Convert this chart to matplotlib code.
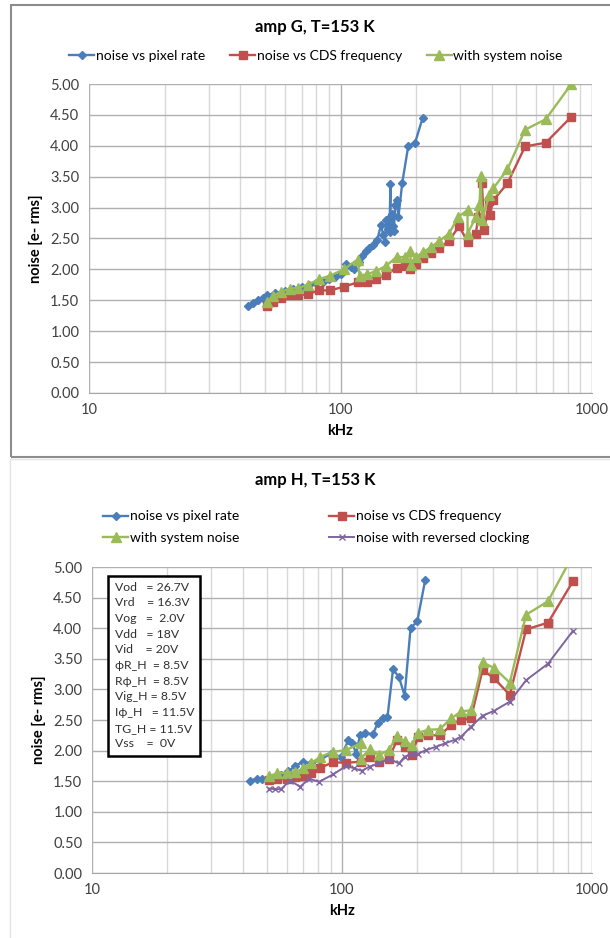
import matplotlib
matplotlib.use("Agg")
import matplotlib.pyplot as plt
from matplotlib.patches import Rectangle
from matplotlib.ticker import FixedLocator, NullFormatter

plt.rcParams['font.family'] = ['Lato', 'DejaVu Sans']

# ---- amp G data ----
g_pix_x = [43, 45, 47, 49, 51, 55, 60, 65, 70, 75, 80, 85, 90, 95, 100, 105, 110, 113, 118, 122, 126, 130, 135, 140,
           145, 148, 150, 152, 155, 157, 158, 158, 160, 162, 163, 165, 167, 170, 176, 186, 198, 212]
g_pix_y = [1.40, 1.46, 1.51, 1.54, 1.58, 1.62, 1.65, 1.68, 1.71, 1.74, 1.78, 1.80, 1.85, 1.88, 1.93, 2.08, 2.04, 2.01,
           2.12, 2.22, 2.29, 2.34, 2.40, 2.48, 2.72, 2.55, 2.45, 2.80, 2.65, 2.85, 3.38, 2.60, 2.90, 2.70, 2.62, 3.05,
           3.12, 2.85, 3.40, 4.00, 4.05, 4.45]
g_cds_x = [51, 54, 58, 63, 68, 74, 82, 91, 103, 117, 127, 138, 152, 167, 180, 189, 200, 213, 229, 247, 270, 296, 320,
           345, 353, 365, 373, 390, 392, 405, 461, 542, 655, 828]
g_cds_y = [1.40, 1.48, 1.54, 1.58, 1.58, 1.60, 1.66, 1.66, 1.72, 1.79, 1.79, 1.85, 1.91, 2.03, 2.06, 2.00, 2.08, 2.19,
           2.27, 2.35, 2.46, 2.70, 2.45, 2.57, 2.85, 3.39, 2.64, 3.10, 2.88, 3.12, 3.39, 3.99, 4.05, 4.47]
g_sys_x = [51, 54, 58, 63, 68, 74, 82, 91, 103, 117, 119, 127, 138, 152, 167, 180, 189, 191, 200, 213, 229, 247, 270,
           294, 320, 320, 345, 357, 361, 365, 390, 405, 461, 542, 655, 828]
g_sys_y = [1.48, 1.57, 1.64, 1.69, 1.70, 1.75, 1.84, 1.90, 2.00, 2.16, 1.90, 1.92, 1.97, 2.06, 2.20, 2.20, 2.29, 2.07,
           2.20, 2.28, 2.36, 2.46, 2.58, 2.85, 2.96, 2.58, 2.84, 3.04, 3.51, 2.80, 3.20, 3.31, 3.62, 4.26, 4.43, 5.00]

# ---- amp H data ----
h_pix_x = [43, 45.6, 48, 52, 57, 61, 65, 70, 75, 82, 90, 99, 106, 110, 114, 118, 124, 133, 139, 146, 152, 160, 169,
           178, 188, 200, 215]
h_pix_y = [1.51, 1.54, 1.54, 1.56, 1.60, 1.66, 1.75, 1.82, 1.79, 1.85, 1.95, 1.90, 2.17, 2.12, 1.95, 2.25, 2.28, 2.27,
           2.45, 2.53, 2.55, 3.33, 3.20, 2.90, 4.00, 4.11, 4.78]
h_cds_x = [51, 55, 60, 65, 70, 75, 82, 92, 104, 119, 129, 141, 154, 166, 178, 190, 202, 221, 246, 274, 300, 328, 365,
           406, 469, 545, 667, 840]
h_cds_y = [1.52, 1.53, 1.54, 1.57, 1.58, 1.63, 1.72, 1.81, 1.80, 1.82, 1.90, 1.82, 1.87, 2.17, 2.06, 1.93, 2.23, 2.25,
           2.25, 2.42, 2.50, 2.53, 3.32, 3.18, 2.91, 3.98, 4.09, 4.77]
h_sys_x = [51, 55, 60, 65, 70, 75, 82, 92, 104, 119, 119, 129, 141, 154, 166, 178, 190, 202, 221, 246, 274, 300, 328,
           365, 406, 469, 545, 667, 840]
h_sys_y = [1.58, 1.63, 1.64, 1.65, 1.71, 1.79, 1.90, 1.98, 2.01, 2.12, 1.87, 2.02, 1.93, 2.01, 2.24, 2.15, 2.09, 2.29,
           2.34, 2.35, 2.53, 2.64, 2.66, 3.44, 3.35, 3.11, 4.22, 4.44, 5.20]
h_rev_x = [51, 54, 57, 62, 68, 74, 81, 92, 104, 112, 120, 129, 141, 154, 169, 178, 191, 202, 217, 237, 259, 284, 300,
           328, 365, 406, 469, 545, 667, 840]
h_rev_y = [1.38, 1.37, 1.37, 1.51, 1.41, 1.54, 1.49, 1.61, 1.75, 1.71, 1.67, 1.74, 1.79, 1.87, 1.79, 1.90, 1.95, 1.95,
           2.01, 2.06, 2.12, 2.18, 2.23, 2.39, 2.57, 2.65, 2.80, 3.15, 3.42, 3.96]

bias_lines = ["Vod   = 26.7V", "Vrd    = 16.3V", "Vog   =  2.0V", "Vdd   = 18V", "Vid    = 20V",
              "\u03d5R_H  = 8.5V", "R\u03d5_H  = 8.5V", "Vig_H = 8.5V", "I\u03d5_H   = 11.5V", "TG_H = 11.5V",
              "Vss    =  0V"]

BLUE = '#4a7ebb'
RED = '#c0504d'
GREEN = '#9bbb59'
PURPLE = '#8064a2'

W, H = 610, 938
fig = plt.figure(figsize=(W / 100, H / 100), dpi=100)


def fx(px):
    return px / W


def fy(py):
    return 1 - py / H


# panel borders
fig.patches.append(Rectangle((fx(11), fy(457)), fx(620) - fx(11), fy(5) - fy(457), transform=fig.transFigure,
                             fill=False, edgecolor='#8c8c8c', lw=1.5))
fig.patches.append(Rectangle((fx(10), fy(945)), fx(620) - fx(10), fy(459) - fy(945), transform=fig.transFigure,
                             fill=False, edgecolor='#e4e4e4', lw=1.0))


def style_axes(ax):
    ax.set_xscale('log')
    ax.set_xlim(10, 1000)
    ax.set_ylim(0, 5)
    ax.set_yticks([i * 0.5 for i in range(11)])
    ax.set_yticklabels(["%.2f" % (i * 0.5) for i in range(11)], fontsize=10.5, color='#404040')
    ax.xaxis.set_major_locator(FixedLocator([10, 100, 1000]))
    ax.xaxis.set_minor_locator(FixedLocator([k * 10 for k in range(2, 10)] + [k * 100 for k in range(2, 10)]))
    ax.xaxis.set_minor_formatter(NullFormatter())
    ax.set_xticklabels(['10', '100', '1000'], fontsize=10.5, color='#404040')
    ax.tick_params(length=0, which='both', pad=7)
    ax.grid(True, which='major', color='#b0b0b0', lw=1.0)
    ax.grid(True, which='minor', axis='x', color='#d9d9d9', lw=1.0)
    ax.set_axisbelow(True)
    for s in ['top', 'right', 'left']:
        ax.spines[s].set_visible(False)
    ax.spines['bottom'].set_color('#a6a6a6')
    ax.set_xlabel('kHz', fontsize=10.5, fontweight='bold', labelpad=5)
    ax.set_ylabel('noise [e- rms]', fontsize=10.5, fontweight='bold', labelpad=5)


# ---- top panel ----
ax1 = fig.add_axes([fx(89), fy(393), fx(592) - fx(89), fy(84) - fy(393)])
style_axes(ax1)
l1, = ax1.plot(g_pix_x, g_pix_y, color=BLUE, lw=1.7, marker='D', ms=4, label='noise vs pixel rate')
l2, = ax1.plot(g_cds_x, g_cds_y, color=RED, lw=1.7, marker='s', ms=6, label='noise vs CDS frequency')
l3, = ax1.plot(g_sys_x, g_sys_y, color=GREEN, lw=1.7, marker='^', ms=6.5, label='with system noise')
fig.text(fx(315), fy(27), 'amp G, T=153 K', fontsize=12, fontweight='bold', ha='center', va='center')
fig.legend(handles=[l1, l2, l3], loc='center', bbox_to_anchor=(fx(316), fy(56)), ncol=3, frameon=False,
           fontsize=10, handlelength=1.8, handletextpad=0.1, columnspacing=1.8)

# ---- bottom panel ----
ax2 = fig.add_axes([fx(92), fy(873), fx(592) - fx(92), fy(567) - fy(873)])
style_axes(ax2)
m1, = ax2.plot(h_pix_x, h_pix_y, color=BLUE, lw=1.7, marker='D', ms=4, label='noise vs pixel rate')
m2, = ax2.plot(h_cds_x, h_cds_y, color=RED, lw=1.7, marker='s', ms=6, label='noise vs CDS frequency')
m3, = ax2.plot(h_sys_x, h_sys_y, color=GREEN, lw=1.7, marker='^', ms=6.5, label='with system noise')
m4, = ax2.plot(h_rev_x, h_rev_y, color=PURPLE, lw=1.4, marker='x', ms=5, label='noise with reversed clocking')
fig.text(fx(315), fy(480), 'amp H, T=153 K', fontsize=12, fontweight='bold', ha='center', va='center')
fig.legend(handles=[m1, m3, m2, m4], loc='center', bbox_to_anchor=(fx(316), fy(527)), ncol=2, frameon=False,
           fontsize=10, handlelength=1.8, handletextpad=0.1, columnspacing=6.5, labelspacing=0.65)

ax2.text(0.045, 0.952, "\n".join(bias_lines), transform=ax2.transAxes, fontsize=8.8, va='top', ha='left',
         linespacing=1.52, zorder=10, color='#303030',
         bbox=dict(boxstyle='square,pad=0.5', facecolor='white', edgecolor='black', lw=1.8))

fig.savefig('out.png', dpi=100)
